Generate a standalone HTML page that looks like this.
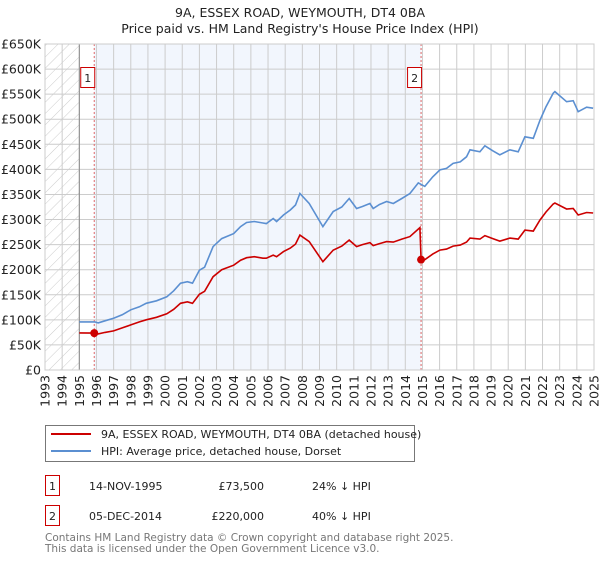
<!DOCTYPE html>
<html><head><meta charset="utf-8"><style>
body{margin:0;background:#fff;font-family:"Liberation Sans","DejaVu Sans",sans-serif;}
svg text{font-family:"DejaVu Sans","Liberation Sans",sans-serif;}
</style></head><body>
<svg id="chart" width="600" height="560" viewBox="0 0 600 560" xmlns="http://www.w3.org/2000/svg">
<defs><pattern id="hatch" width="8" height="8" patternUnits="userSpaceOnUse" patternTransform="rotate(45)"><line x1="0" y1="0" x2="0" y2="8" stroke="#ccc" stroke-width="1"/></pattern></defs>
<text x="300" y="17" text-anchor="middle" font-size="12.5" fill="#222">9A, ESSEX ROAD, WEYMOUTH, DT4 0BA</text>
<text x="300" y="33" text-anchor="middle" font-size="12.5" fill="#222">Price paid vs. HM Land Registry's House Price Index (HPI)</text>
<g id="plot"></g>
<g>
<rect x="45.5" y="425.5" width="369" height="36" fill="#fff" stroke="#777"/>
<line x1="51" y1="434" x2="91" y2="434" stroke="#cc0000" stroke-width="2"/>
<text x="101" y="438" font-size="11" fill="#222">9A, ESSEX ROAD, WEYMOUTH, DT4 0BA (detached house)</text>
<line x1="51" y1="451" x2="91" y2="451" stroke="#5b8fd1" stroke-width="2"/>
<text x="101" y="455" font-size="11" fill="#222">HPI: Average price, detached house, Dorset</text>
</g>
<g font-size="11" fill="#222">
<rect x="45.5" y="475.5" width="14" height="20" fill="#fff" stroke="#cc0000"/>
<text x="52.5" y="490" text-anchor="middle">1</text>
<text x="89" y="490">14-NOV-1995</text>
<text x="264" y="490" text-anchor="end">£73,500</text>
<text x="312" y="490">24% ↓ HPI</text>
<rect x="45.5" y="505.5" width="14" height="20" fill="#fff" stroke="#cc0000"/>
<text x="52.5" y="520" text-anchor="middle">2</text>
<text x="89" y="520">05-DEC-2014</text>
<text x="264" y="520" text-anchor="end">£220,000</text>
<text x="312" y="520">40% ↓ HPI</text>
</g>
<text x="45" y="541" font-size="10.5" fill="#777">Contains HM Land Registry data © Crown copyright and database right 2025.</text>
<text x="45" y="552" font-size="10.5" fill="#777">This data is licensed under the Open Government Licence v3.0.</text>
</svg>
<script>
const yTicks=[0,50,100,150,200,250,300,350,400,450,500,550,600,650];
const yTickLabels=["£0","£50K","£100K","£150K","£200K","£250K","£300K","£350K","£400K","£450K","£500K","£550K","£600K","£650K"];
const xYears=[1993,1994,1995,1996,1997,1998,1999,2000,2001,2002,2003,2004,2005,2006,2007,2008,2009,2010,2011,2012,2013,2014,2015,2016,2017,2018,2019,2020,2021,2022,2023,2024,2025];
const hpiYears=[1995.0,1995.9,1996.1,1996.5,1997.0,1997.5,1998.0,1998.5,1998.9,1999.5,2000.1,2000.5,2000.9,2001.3,2001.6,2002.0,2002.3,2002.8,2003.3,2004.0,2004.4,2004.75,2005.2,2005.7,2005.9,2006.3,2006.5,2006.9,2007.3,2007.6,2007.86,2008.4,2009.2,2009.8,2010.3,2010.73,2011.16,2011.5,2011.94,2012.13,2012.5,2012.91,2013.3,2013.8,2014.27,2014.76,2015.14,2015.6,2016.02,2016.4,2016.79,2017.2,2017.57,2017.77,2018.35,2018.64,2019.1,2019.51,2020.1,2020.58,2020.97,2021.46,2021.85,2022.2,2022.62,2022.72,2023.4,2023.79,2024.08,2024.57,2024.95];
const hpiValues=[96,96,94,98,103,110,120,126,133,138,146,158,173,176,173,199,205,246,262,272,286,294,296,293,292,302,296,309,319,329,352,332,286,316,325,342,322,326,332,322,330,336,332,342,352,373,366,385,399,402,412,415,425,439,435,447,437,429,439,435,465,462,498,525,552,555,535,537,515,524,522];
const ppYears=[1995.0,1995.87,1996.1,1996.5,1997.0,1997.5,1998.0,1998.5,1998.9,1999.5,2000.1,2000.5,2000.9,2001.3,2001.6,2002.0,2002.3,2002.8,2003.3,2004.0,2004.4,2004.75,2005.2,2005.7,2005.9,2006.3,2006.5,2006.9,2007.3,2007.6,2007.86,2008.4,2009.2,2009.8,2010.3,2010.73,2011.16,2011.5,2011.94,2012.13,2012.5,2012.91,2013.3,2013.8,2014.27,2014.85,2014.92,2015.14,2015.6,2016.02,2016.4,2016.79,2017.2,2017.57,2017.77,2018.35,2018.64,2019.1,2019.51,2020.1,2020.58,2020.97,2021.46,2021.85,2022.2,2022.62,2022.72,2023.4,2023.79,2024.08,2024.57,2024.95];
const ppValues=[74,73.5,72,75,78,84,90,96,100,105,112,121,133,136,133,151,157,186,200,209,219,224,226,223,223,229,226,236,243,251,269,256,216,239,247,259,246,250,254,248,252,256,255,261,266,284,220,220,231,239,241,247,249,255,263,261,268,262,257,263,261,279,277,299,315,331,333,321,322,309,314,313];
const saleYears=[1995.87,2014.92];
const saleValues=[73.5,220];
const saleLabels=["1","2"];

const L=45,R=594,T=44,B=370,Y0=1993,Y1=2025,VMAX=650;
const xs=y=>L+(y-Y0)/(Y1-Y0)*(R-L);
const ys=v=>B-v/VMAX*(B-T);
const NS="http://www.w3.org/2000/svg";
const g=document.getElementById('plot');
function mk(tag,attrs){const e=document.createElementNS(NS,tag);for(const k in attrs)e.setAttribute(k,attrs[k]);g.appendChild(e);return e;}

const hatchR=mk('rect',{x:xs(1993),y:T,width:xs(1995)-xs(1993),height:B-T,fill:'url(#hatch)'});


const shade=mk('rect',{x:xs(saleYears[0]),y:T,width:xs(saleYears[1])-xs(saleYears[0]),height:B-T,fill:'#eef3fc',opacity:'0.75'});



yTicks.forEach((v,i)=>{
  const ln=mk('line',{x1:L,x2:R,y1:ys(v),y2:ys(v),stroke:'#ccc','stroke-width':1});
  
  
  const t=mk('text',{x:L-4,y:ys(v)+4.5,'text-anchor':'end','font-size':'12.5',fill:'#222'});
  t.textContent=yTickLabels[i];
  
  
});
xYears.forEach(yr=>{
  const ln=mk('line',{x1:xs(yr),x2:xs(yr),y1:T,y2:B,stroke:'#ccc','stroke-width':1});
  
  
  const t=mk('text',{transform:`translate(${xs(yr)+4.5},${B+5}) rotate(-90)`,'text-anchor':'end','font-size':'12.5',fill:'#222'});
  t.textContent=String(yr);
  
  
});
const ax=mk('line',{x1:xs(1995),x2:xs(1995),y1:T,y2:B,stroke:'#888','stroke-width':1});



saleYears.forEach((yr,i)=>{
  const ln=mk('line',{x1:xs(yr),x2:xs(yr),y1:T,y2:B,stroke:'#e06666','stroke-width':1,'stroke-dasharray':'2,2'});
  
  
});

function pts(xa,va){return xa.map((x,i)=>xs(x).toFixed(1)+','+ys(va[i]).toFixed(1)).join(' ');}
const hp=mk('polyline',{points:pts(hpiYears,hpiValues),fill:'none',stroke:'#5b8fd1','stroke-width':1.6});


const pp=mk('polyline',{points:pts(ppYears,ppValues),fill:'none',stroke:'#cc0000','stroke-width':1.6});



saleYears.forEach((yr,i)=>{
  const c=mk('circle',{cx:xs(yr),cy:ys(saleValues[i]),r:4,fill:'#cc0000'});
  
  
  const bx=mk('rect',{x:xs(yr)-13.5,y:67.5,width:14,height:20,fill:'#fff',stroke:'#cc0000'});
  
  
  const t=mk('text',{x:xs(yr)-6.5,y:82,'text-anchor':'middle','font-size':'11',fill:'#222'});
  t.textContent=saleLabels[i];
  
  
});
const fr=mk('rect',{x:L,y:T,width:R-L,height:B-T,fill:'none',stroke:'#ccc'});


</script>
</body></html>
